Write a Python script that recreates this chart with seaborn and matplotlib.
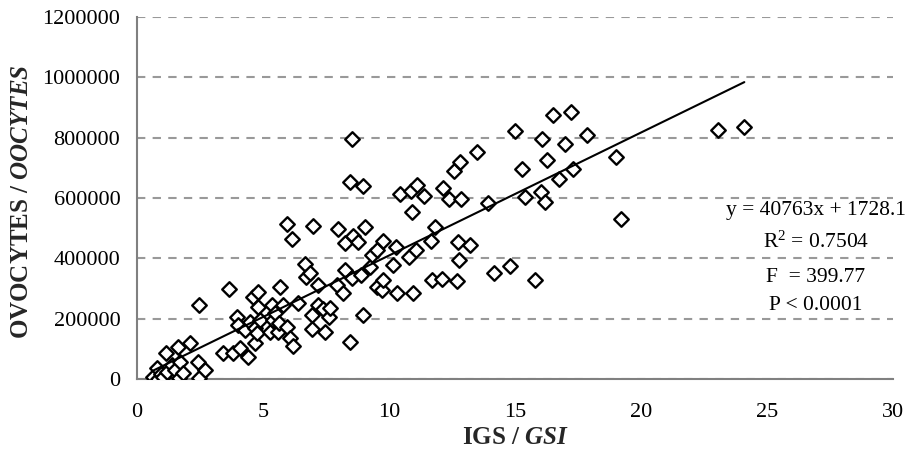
import matplotlib
matplotlib.use("Agg")
import matplotlib.pyplot as plt
import numpy as np
import pandas as pd
import seaborn as sns
from matplotlib.ticker import MultipleLocator, FuncFormatter

# Gonadosomatic index (GSI) and oocyte counts per female
gsi = [
    0.65, 0.78, 0.85, 0.95, 1.04, 1.15, 1.18, 1.38, 1.50, 1.64, 1.68, 1.71,
    1.84, 2.10, 2.43, 2.47, 2.47, 2.70,
    3.43, 3.64, 3.82, 3.96, 4.02, 4.09, 4.29, 4.42, 4.50, 4.62, 4.68, 4.68,
    4.75, 4.81, 4.82, 4.88,
    5.28, 5.34, 5.41, 5.48, 5.61, 5.67, 5.65, 5.81, 5.94, 5.94, 6.07, 6.14,
    6.20, 6.40, 6.67, 6.70, 6.87, 6.93, 6.93, 6.97, 7.20, 7.20, 7.39, 7.46,
    7.63, 7.66, 7.95, 7.99,
    8.18, 8.25, 8.25, 8.45, 8.45, 8.52, 8.52, 8.58, 8.78, 8.88, 8.96, 8.98,
    9.05, 9.23, 9.31, 9.51, 9.51, 9.71, 9.77, 9.77, 10.17, 10.29, 10.30, 10.45,
    10.80, 10.87, 10.90, 10.97, 11.09, 11.10, 11.38, 11.66, 11.69, 11.83,
    12.09, 12.13, 12.37, 12.56, 12.69, 12.75, 12.79, 12.80, 12.86, 13.21,
    13.50, 13.94, 14.18, 14.80, 15.00, 15.26, 15.40, 15.81, 16.02, 16.06,
    16.19, 16.28, 16.52, 16.76, 16.98, 17.21, 17.29, 17.84, 19.00, 19.19,
    23.07, 24.10,
]
oocytes = [
    6000, 35000, 0, 15000, 6000, 85000, 24000, 46000, 30000, 107000, 2000, 57000,
    19000, 118000, 57000, 245000, 2000, 30000,
    85000, 300000, 85000, 206000, 179000, 102000, 162000, 74000, 190000, 273000, 118000, 169000,
    151000, 238000, 290000, 196000,
    157000, 245000, 196000, 218000, 157000, 306000, 185000, 245000, 173000, 513000, 137000, 463000,
    108000, 252000, 380000, 338000, 350000, 212000, 165000, 508000, 312000, 245000, 231000, 157000,
    206000, 234000, 313000, 498000,
    284000, 450000, 362000, 121000, 652000, 795000, 335000, 474000, 455000, 345000, 212000, 640000,
    503000, 372000, 411000, 428000, 306000, 294000, 459000, 327000, 378000, 437000, 284000, 614000,
    404000, 622000, 555000, 285000, 428000, 644000, 608000, 459000, 328000, 504000,
    332000, 632000, 597000, 689000, 325000, 455000, 395000, 720000, 596000, 444000,
    754000, 584000, 352000, 375000, 821000, 697000, 604000, 327000, 619000, 795000,
    586000, 726000, 875000, 663000, 778000, 886000, 697000, 809000, 735000, 529000,
    826000, 837000,
]

# Least-squares fit reported on the chart
slope = 40763
intercept = 1728.1
r_squared = 0.7504
f_value = 399.77

x_ticks = [0, 5, 10, 15, 20, 25, 30]
y_ticks = [0, 200000, 400000, 600000, 800000, 1000000, 1200000]

sns.set_theme(style="white")
plt.rcParams["font.family"] = ["Liberation Serif", "DejaVu Serif"]
plt.rcParams["mathtext.fontset"] = "custom"
plt.rcParams["mathtext.rm"] = "Liberation Serif"
plt.rcParams["mathtext.it"] = "Liberation Serif:italic"
plt.rcParams["mathtext.bf"] = "Liberation Serif:bold"
plt.rcParams["mathtext.bfit"] = "Liberation Serif:italic:bold"

W, H = 908, 462
fig = plt.figure(figsize=(W / 100, H / 100), dpi=100)
ax = fig.add_axes([137 / W, 1 - 379 / H, (893 - 137) / W, (379 - 17) / H])

df = pd.DataFrame({"gsi": gsi, "oocytes": oocytes})
sns.scatterplot(data=df, x="gsi", y="oocytes", marker="D", s=55,
                color="white", edgecolor="black", linewidth=1.7,
                ax=ax, zorder=3, legend=False)

fit = pd.DataFrame({"gsi": [min(gsi), max(gsi)]})
fit["oocytes"] = slope * fit["gsi"] + intercept
sns.lineplot(data=fit, x="gsi", y="oocytes", color="black", linewidth=1.5,
             ax=ax, zorder=4, legend=False)

ax.set_xlim(x_ticks[0], x_ticks[-1])
ax.set_ylim(y_ticks[0], y_ticks[-1])
ax.set_xticks(x_ticks)
ax.set_yticks(y_ticks)
ax.xaxis.set_minor_locator(MultipleLocator(1))
ax.yaxis.set_minor_locator(MultipleLocator(40000))
ax.yaxis.set_major_formatter(FuncFormatter(lambda v, p: f"{int(round(v))}"))
ax.xaxis.set_major_formatter(FuncFormatter(lambda v, p: f"{int(round(v))}"))

axis_grey = "#808080"
for side in ("top", "right"):
    ax.spines[side].set_visible(False)
for side in ("left", "bottom"):
    ax.spines[side].set_color(axis_grey)
    ax.spines[side].set_linewidth(1.5)

ax.tick_params(axis="x", which="major", direction="inout", length=11, width=1.2,
               color=axis_grey, labelsize=16, labelcolor="black", pad=12)
ax.tick_params(axis="x", which="minor", direction="in", length=5, width=1.2,
               color=axis_grey)
ax.tick_params(axis="y", which="major", direction="out", length=7, width=1.2,
               color=axis_grey, labelsize=16, labelcolor="black", pad=5)
ax.tick_params(axis="y", which="minor", direction="in", length=5, width=1.2,
               color=axis_grey)

ax.yaxis.grid(True, which="major", color="#999999", linestyle=(0, (4, 3.5)),
              linewidth=1.5)
ax.xaxis.grid(False)
ax.set_axisbelow(True)

ax.set_xlabel(r"IGS / $\mathbfit{GSI}$", fontsize=18, fontweight="bold")
ax.set_ylabel(r"OVOCYTES / $\mathbfit{OOCYTES}$", fontsize=18, fontweight="bold")
ax.xaxis.set_label_coords(0.5, -0.13)
ax.yaxis.set_label_coords(-0.137, 0.49)

cx = 816 / W
stats = [
    (210, f"y = {slope}x + {intercept}"),
    (242, rf"R$^2$ = {r_squared:.4f}"),
    (278, f"F  = {f_value:.2f}"),
    (305, "P < 0.0001"),
]
for py, txt in stats:
    fig.text(cx, 1 - py / H, txt, ha="center", va="center", fontsize=15.5,
             color="black")

fig.savefig("out.png", dpi=100)
